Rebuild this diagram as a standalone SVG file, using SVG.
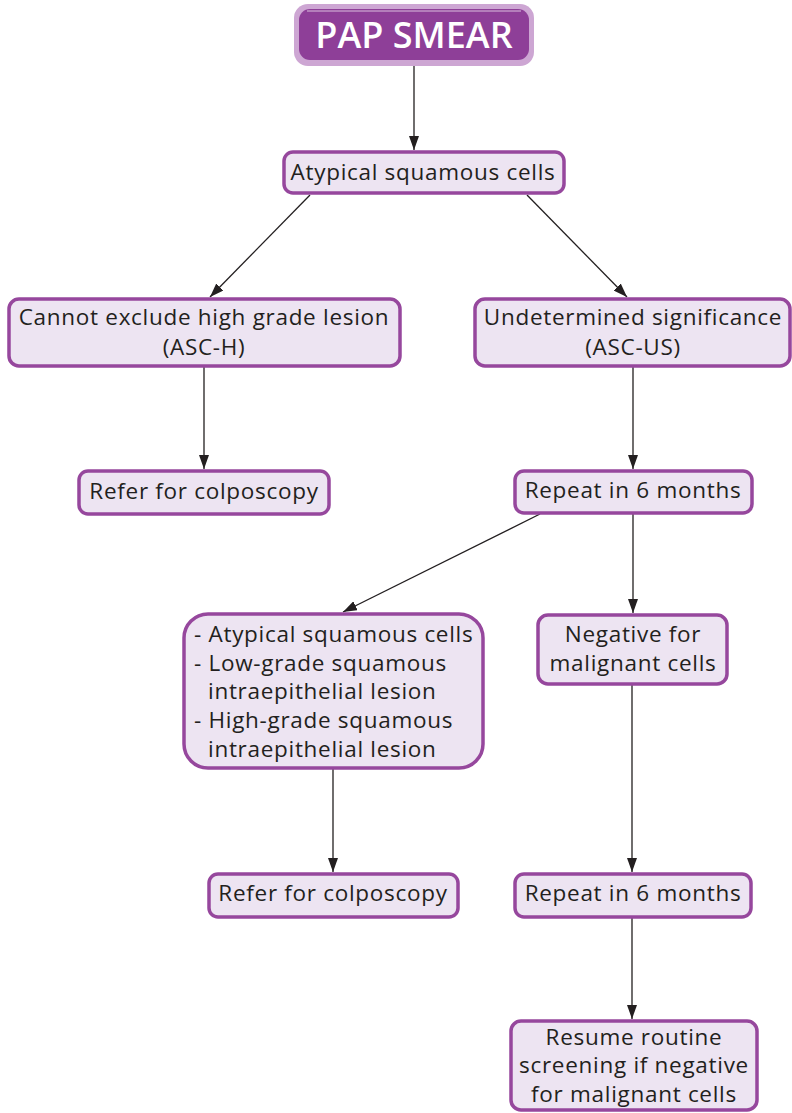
<svg xmlns="http://www.w3.org/2000/svg" width="792" height="1113" viewBox="0 0 792 1113">
<defs>
<marker id="ah" viewBox="0 0 14 10" refX="14" refY="5" markerWidth="14" markerHeight="10" markerUnits="userSpaceOnUse" orient="auto">
<path d="M0,0 L14,5 L0,10 Z" fill="#231F20"/>
</marker>
</defs>
<style>
.box{fill:#EDE4F2;stroke:#96479D;stroke-width:3.5}
.t{font-family:"Open Sans","Noto Sans",sans-serif;font-size:22.5px;letter-spacing:0.7px;fill:#231F20;text-anchor:middle}
.tl{font-family:"Open Sans","Noto Sans",sans-serif;font-size:22.5px;letter-spacing:0.7px;fill:#231F20}
.c{stroke:#231F20;stroke-width:1.3;fill:none;marker-end:url(#ah)}
</style>
<rect width="792" height="1113" fill="#FFFFFF"/>
<g id="connectors">
<line class="c" x1="414" y1="66" x2="414" y2="150"/>
<line class="c" x1="310" y1="195" x2="210" y2="297"/>
<line class="c" x1="527" y1="195" x2="627" y2="297"/>
<line class="c" x1="204" y1="367" x2="204" y2="469"/>
<line class="c" x1="633" y1="367" x2="633" y2="469"/>
<line class="c" x1="540" y1="514" x2="343" y2="612"/>
<line class="c" x1="633" y1="514" x2="633" y2="613"/>
<line class="c" x1="333" y1="769" x2="333" y2="872"/>
<line class="c" x1="632" y1="685" x2="632" y2="872"/>
<line class="c" x1="632" y1="918" x2="632" y2="1019"/>
</g>
<g id="pap">
<rect x="294" y="4" width="240" height="62" rx="14" fill="#CDA6D3"/>
<rect x="299" y="9" width="230" height="51" rx="11" fill="#8E3F98"/>
<line x1="307" y1="11" x2="521" y2="11" stroke="#D9BFDD" stroke-width="1"/>
<text x="414" y="48" font-family="Open Sans, Noto Sans, sans-serif" font-size="36" font-weight="600" fill="#FFFFFF" text-anchor="middle">PAP SMEAR</text>
</g>
<g id="atypical">
<rect class="box" x="284" y="152" width="280" height="41" rx="9"/>
<text class="t" x="423" y="180">Atypical squamous cells</text>
</g>
<g id="asch">
<rect class="box" x="9" y="299" width="391" height="67" rx="10"/>
<text class="t" x="204" y="325">Cannot exclude high grade lesion</text>
<text class="t" x="204" y="355">(ASC-H)</text>
</g>
<g id="ascus">
<rect class="box" x="475" y="299" width="315" height="67" rx="10"/>
<text class="t" x="633" y="325">Undetermined significance</text>
<text class="t" x="633" y="355">(ASC-US)</text>
</g>
<g id="refer1">
<rect class="box" x="79" y="471" width="250" height="43" rx="9"/>
<text class="t" x="204" y="499">Refer for colposcopy</text>
</g>
<g id="repeat1">
<rect class="box" x="515" y="471" width="237" height="42" rx="9"/>
<text class="t" x="633" y="498">Repeat in 6 months</text>
</g>
<g id="lesions">
<rect class="box" x="184" y="614" width="299" height="154" rx="24"/>
<text class="tl" x="194" y="642">- Atypical squamous cells</text>
<text class="tl" x="194" y="671">- Low-grade squamous</text>
<text class="tl" x="208" y="699">intraepithelial lesion</text>
<text class="tl" x="194" y="728">- High-grade squamous</text>
<text class="tl" x="208" y="757">intraepithelial lesion</text>
</g>
<g id="negative">
<rect class="box" x="538" y="615" width="189" height="69" rx="10"/>
<text class="t" x="633" y="642">Negative for</text>
<text class="t" x="633" y="671">malignant cells</text>
</g>
<g id="refer2">
<rect class="box" x="209" y="874" width="249" height="43" rx="9"/>
<text class="t" x="333" y="901">Refer for colposcopy</text>
</g>
<g id="repeat2">
<rect class="box" x="515" y="874" width="236" height="43" rx="9"/>
<text class="t" x="633" y="901">Repeat in 6 months</text>
</g>
<g id="resume">
<rect class="box" x="511" y="1021" width="246" height="89" rx="10"/>
<text class="t" x="634" y="1045">Resume routine</text>
<text class="t" x="634" y="1073">screening if negative</text>
<text class="t" x="634" y="1102">for malignant cells</text>
</g>
</svg>
